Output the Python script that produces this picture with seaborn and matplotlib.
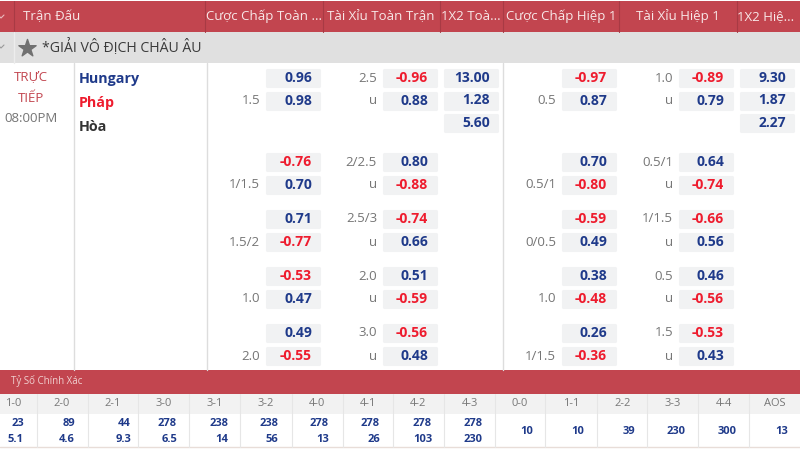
import seaborn as sns
import matplotlib.pyplot as plt
import pandas as pd
from matplotlib.path import Path

sns.set_theme(style="white")
plt.rcParams["font.family"] = ["Open Sans", "Noto Sans", "DejaVu Sans"]

RED = "#C2454F"
BLUE = "#1F3A8A"
HOT = "#EE1C2E"
GREY = "#757575"
CHIP = "#F1F2F3"
LINE = "#DDDDDD"

# table text and odds
headers = ["Trận Đấu", "Cược Chấp Toàn ...", "Tài Xỉu Toàn Trận", "1X2 Toà...",
           "Cược Chấp Hiệp 1", "Tài Xỉu Hiệp 1", "1X2 Hiệ..."]
league = "*GIẢI VÔ ĐỊCH CHÂU ÂU"
teams = ["Hungary", "Pháp", "Hòa"]

ft_hdp_line = ["1.5", "1/1.5", "1.5/2", "1.0", "2.0"]
ft_hdp_top = ["0.96", "-0.76", "0.71", "-0.53", "0.49"]
ft_hdp_bot = ["0.98", "0.70", "-0.77", "0.47", "-0.55"]
ft_ou_line = ["2.5", "2/2.5", "2.5/3", "2.0", "3.0"]
ft_ou_top = ["-0.96", "0.80", "-0.74", "0.51", "-0.56"]
ft_ou_bot = ["0.88", "-0.88", "0.66", "-0.59", "0.48"]
ht_hdp_line = ["0.5", "0.5/1", "0/0.5", "1.0", "1/1.5"]
ht_hdp_top = ["-0.97", "0.70", "-0.59", "0.38", "0.26"]
ht_hdp_bot = ["0.87", "-0.80", "0.49", "-0.48", "-0.36"]
ht_ou_line = ["1.0", "0.5/1", "1/1.5", "0.5", "1.5"]
ht_ou_top = ["-0.89", "0.64", "-0.66", "0.46", "-0.53"]
ht_ou_bot = ["0.79", "-0.74", "0.56", "-0.56", "0.43"]
ft_1x2 = ["13.00", "1.28", "5.60"]
ht_1x2 = ["9.30", "1.87", "2.27"]

score_title = "Tỷ Số Chính Xác"
score_labels = ["1-0", "2-0", "2-1", "3-0", "3-1", "3-2", "4-0", "4-1", "4-2", "4-3",
                "0-0", "1-1", "2-2", "3-3", "4-4", "AOS"]
score_top = ["23", "89", "44", "278", "238", "238", "278", "278", "278", "278",
             "10", "10", "39", "230", "300", "13"]
score_bot = ["5.1", "4.6", "9.3", "6.5", "14", "56", "13", "26", "103", "230",
             None, None, None, None, None, None]

# layout in pixels
row_top = [78, 162, 219, 276, 333]
row_gap = 23
header_x = [23, 264, 381, 471, 561, 678, 766]
header_seps = [14, 205, 323, 440, 503, 619, 737]
score_seps = [37, 88, 138, 189, 240, 292, 343, 393, 444, 495, 545, 597, 647, 698, 749]
score_mid = [13, 62, 113, 164, 215, 266, 317, 368, 418, 470, 520, 571, 623, 673, 724, 775]
score_right = [24, 75, 131, 177, 228, 278, 329, 380, 432, 483, 533, 584, 635, 686, 737, 788]

fig = plt.figure(figsize=(8, 4.5), dpi=100)
ax = fig.add_axes([0, 0, 1, 1])

# rows into long tables
chips = []
lines = []
markets = [
    (ft_hdp_line, ft_hdp_top, ft_hdp_bot, 293, 312, 260, False),
    (ft_ou_line, ft_ou_top, ft_ou_bot, 410, 428, 377, True),
    (ht_hdp_line, ht_hdp_top, ht_hdp_bot, 589, 607, 556, False),
    (ht_ou_line, ht_ou_top, ht_ou_bot, 706, 724, 673, True),
]
for line_vals, tops, bots, cx, rx, lx, on_top in markets:
    for i, y in enumerate(row_top):
        chips.append({"x": cx, "y": y, "text": tops[i], "right": rx})
        chips.append({"x": cx, "y": y + row_gap, "text": bots[i], "right": rx})
        lines.append({"x": lx, "y": y if on_top else y + row_gap, "text": line_vals[i]})
        if on_top:
            lines.append({"x": lx, "y": y + row_gap, "text": "u"})
for vals, cx, rx in [(ft_1x2, 470.5, 490), (ht_1x2, 766.5, 786)]:
    for i, val in enumerate(vals):
        chips.append({"x": cx, "y": row_top[0] + i * 22.5, "text": val, "right": rx})
chips = pd.DataFrame(chips)
lines = pd.DataFrame(lines)

# the grey rounded chips behind the odds
chip_marker = Path([(-26, -8), (26, -8), (26, 8), (-26, 8), (-26, -8)], closed=True)
sns.scatterplot(data=chips, x="x", y="y", marker=chip_marker, s=1402, color=CHIP,
                edgecolor=CHIP, linewidth=2.2, legend=False, ax=ax, zorder=2)
ax.collections[-1].set_joinstyle("round")

ax.set_xlim(0, 800)
ax.set_ylim(450, 0)
ax.axis("off")

# bands
ax.axhspan(1, 32, color=RED, lw=0)
ax.axhspan(32, 63, color="#E0E0E0", lw=0)
ax.axhspan(370, 394, color=RED, lw=0)
ax.axhspan(394, 414, color="#F2F2F2", lw=0)
ax.axhline(447, color="#E8DDD8", lw=1)

for x in header_seps:
    ax.plot([x, x], [1, 32], color="#A83A44", lw=0.8)
ax.plot([14, 14], [32, 63], color="#EDEDED", lw=1)
for x in [74, 207, 503]:
    ax.plot([x, x], [63, 370], color=LINE, lw=1)
for x in score_seps:
    ax.plot([x, x], [394, 447], color="#E6E6E6", lw=0.8)

for _, r in chips.iterrows():
    col = HOT if r["text"].startswith("-") else BLUE
    ax.text(r["right"], r["y"], r["text"], color=col, fontsize=10, fontweight="bold",
            ha="right", va="center", zorder=3)
for _, r in lines.iterrows():
    ax.text(r["x"], r["y"], r["text"], color=GREY, fontsize=9.5, ha="right", va="center")

# header and league text
ax.text(header_x[0], 16.5, headers[0], color="#F8E8E8", fontsize=9.5, va="center")
for name, x in zip(headers[1:], header_x[1:]):
    ax.text(x, 16.5, name, color="#F8E8E8", fontsize=9.5, ha="center", va="center")
# cut off collapse arrows at the left edge
ax.plot([-2, 1, 4], [15, 18, 15], color="#E9B9BD", lw=0.8)
ax.plot([-2, 1, 4], [45, 48, 45], color="#9A9A9A", lw=0.8)
ax.scatter([27], [48], marker="*", s=170, color="#707070", zorder=3)
ax.text(42, 47.5, league, color="#3A3A3A", fontsize=10.2, va="center")

# match info
ax.text(31, 77, "TRỰC", color=RED, fontsize=9.5, ha="center", va="center")
ax.text(31, 98, "TIẾP", color=RED, fontsize=9.5, ha="center", va="center")
ax.text(31, 119, "08:00PM", color=GREY, fontsize=9.5, ha="center", va="center")
for name, y, col in zip(teams, [79, 103, 127], [BLUE, HOT, "#333333"]):
    ax.text(79, y, name, color=col, fontsize=10.3, fontweight="bold", va="center")

# correct score strip
ax.text(11, 381, score_title, color="#F0D0D0", fontsize=7, va="center")
for i, lab in enumerate(score_labels):
    ax.text(score_mid[i], 404, lab, color="#777777", fontsize=8, ha="center", va="center")
    if score_bot[i] is None:
        ax.text(score_right[i], 431, score_top[i], color=BLUE, fontsize=8, fontweight="bold",
                ha="right", va="center")
    else:
        ax.text(score_right[i], 423, score_top[i], color=BLUE, fontsize=8, fontweight="bold",
                ha="right", va="center")
        ax.text(score_right[i], 440, score_bot[i], color=BLUE, fontsize=8, fontweight="bold",
                ha="right", va="center")

fig.savefig("out.png", dpi=100)
